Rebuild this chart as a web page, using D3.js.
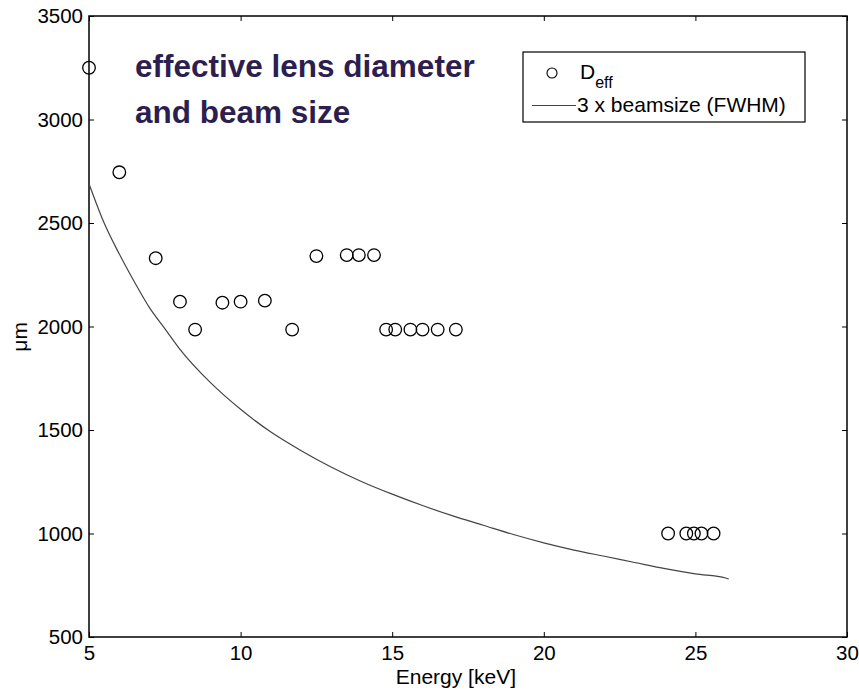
<!DOCTYPE html>
<html>
<head>
<meta charset="utf-8">
<script src="https://cdn.jsdelivr.net/npm/d3@7"></script>
<style>
  body { margin: 0; background: #fff; }
  text { font-family: Arial, "Liberation Sans", sans-serif; }
</style>
</head>
<body>
<svg id="canvas" width="859" height="691"></svg>
<script>
/********** Data *********/
// D_eff measurements: energy [keV] and diameter [um]
var deff_energy = [5, 6, 7.2, 8, 8.5, 9.4, 10, 10.8, 11.7, 12.5, 13.5, 13.9, 14.4,
                   14.8, 15.1, 15.6, 16, 16.5, 17.1, 24.1, 24.7, 24.95, 25.2, 25.6];
var deff_value = [3250, 2745, 2330, 2120, 1985, 2115, 2120, 2125, 1985, 2340, 2345, 2345, 2345,
                  1985, 1985, 1985, 1985, 1985, 1985, 1000, 1000, 1000, 1000, 1000];

// 3 x beamsize (FWHM)
var beam_energy = [5, 5.5, 6, 6.5, 7, 7.5, 8, 9, 10, 11, 12, 13, 14, 15, 16, 17,
                   18, 19, 20, 21, 22, 23, 24, 25, 26, 26.1];
var beam_value = [2690, 2500, 2350, 2215, 2090, 1990, 1890, 1730, 1600, 1490, 1400, 1320,
                  1250, 1190, 1135, 1085, 1040, 995, 955, 920, 890, 860, 830, 805, 785, 780];

var x_ticks = [5, 10, 15, 20, 25, 30];
var y_ticks = [500, 1000, 1500, 2000, 2500, 3000, 3500];


/********** Initialisation *********/
var svg = d3.select("#canvas");
var width = +svg.attr("width");
var height = +svg.attr("height");

var margin = {top: 16, right: 12, bottom: 54, left: 89};
var plot_w = width - margin.left - margin.right;
var plot_h = height - margin.top - margin.bottom;

var x = d3.scaleLinear().domain([5, 30]).range([0, plot_w]);
var y = d3.scaleLinear().domain([500, 3500]).range([plot_h, 0]);

var g = svg.append("g")
    .attr("transform", "translate(" + margin.left + "," + margin.top + ")");


/********** Axes (matlab box, inward ticks) *********/
function styleAxis(sel)
{
    sel.select(".domain").remove();
    sel.selectAll("line").attr("stroke", "#000").attr("stroke-width", 1);
    sel.selectAll("text").attr("fill", "#000").style("font-size", "20.5px");
}

g.append("g")
    .attr("transform", "translate(0," + plot_h + ")")
    .call(d3.axisBottom(x).tickValues(x_ticks).tickSizeInner(-5).tickPadding(8).tickFormat(d3.format("d")))
    .call(styleAxis);

g.append("g")
    .call(d3.axisTop(x).tickValues(x_ticks).tickSizeInner(-5).tickFormat(""))
    .call(styleAxis);

g.append("g")
    .call(d3.axisLeft(y).tickValues(y_ticks).tickSizeInner(-5).tickPadding(6).tickFormat(d3.format("d")))
    .call(styleAxis);

g.append("g")
    .attr("transform", "translate(" + plot_w + ",0)")
    .call(d3.axisRight(y).tickValues(y_ticks).tickSizeInner(-5).tickFormat(""))
    .call(styleAxis);

g.append("rect")
    .attr("width", plot_w)
    .attr("height", plot_h)
    .attr("fill", "none")
    .attr("stroke", "#000")
    .attr("stroke-width", 1.5);

// axis labels
svg.append("text")
    .attr("x", margin.left + x(17.1))
    .attr("y", 684)
    .attr("text-anchor", "middle")
    .style("font-size", "21px")
    .text("Energy [keV]");

svg.append("text")
    .attr("transform", "translate(27," + (margin.top + y(1950)) + ") rotate(-90)")
    .attr("text-anchor", "middle")
    .style("font-size", "21px")
    .text("μm");


/********** Curve and points *********/
var beam_data = d3.zip(beam_energy, beam_value);
var line = d3.line()
    .x(function(d) { return x(d[0]); })
    .y(function(d) { return y(d[1]); })
    .curve(d3.curveMonotoneX);

g.append("path")
    .datum(beam_data)
    .attr("d", line)
    .attr("fill", "none")
    .attr("stroke", "#444")
    .attr("stroke-width", 1.2);

var deff_data = d3.zip(deff_energy, deff_value);
g.append("g")
    .selectAll("circle")
    .data(deff_data)
    .enter()
    .append("circle")
    .attr("cx", function(d) { return x(d[0]); })
    .attr("cy", function(d) { return y(d[1]); })
    .attr("r", 6.3)
    .attr("fill", "none")
    .attr("stroke", "#000")
    .attr("stroke-width", 1.3);


/********** Annotation *********/
var note = svg.append("text")
    .style("font-size", "31.5px")
    .style("font-weight", "bold")
    .attr("fill", "#2c1f50");
note.append("tspan").attr("x", 135).attr("y", 77).text("effective lens diameter");
note.append("tspan").attr("x", 135).attr("y", 123).text("and beam size");


/********** Legend *********/
var legend = svg.append("g");
legend.append("rect")
    .attr("x", 523)
    .attr("y", 52)
    .attr("width", 282)
    .attr("height", 70)
    .attr("fill", "#fff")
    .attr("stroke", "#000")
    .attr("stroke-width", 1.2);

legend.append("circle")
    .attr("cx", 552)
    .attr("cy", 73)
    .attr("r", 5)
    .attr("fill", "none")
    .attr("stroke", "#000")
    .attr("stroke-width", 1.1);

var dlab = legend.append("text")
    .attr("x", 580)
    .attr("y", 79)
    .style("font-size", "21px");
dlab.append("tspan").text("D");
dlab.append("tspan").attr("dy", 9).style("font-size", "16px").text("eff");

legend.append("line")
    .attr("x1", 532).attr("x2", 576)
    .attr("y1", 105.5).attr("y2", 105.5)
    .attr("stroke", "#444")
    .attr("stroke-width", 1.2);

legend.append("text")
    .attr("x", 577)
    .attr("y", 112)
    .style("font-size", "21px")
    .text("3 x beamsize (FWHM)");
</script>
</body>
</html>
